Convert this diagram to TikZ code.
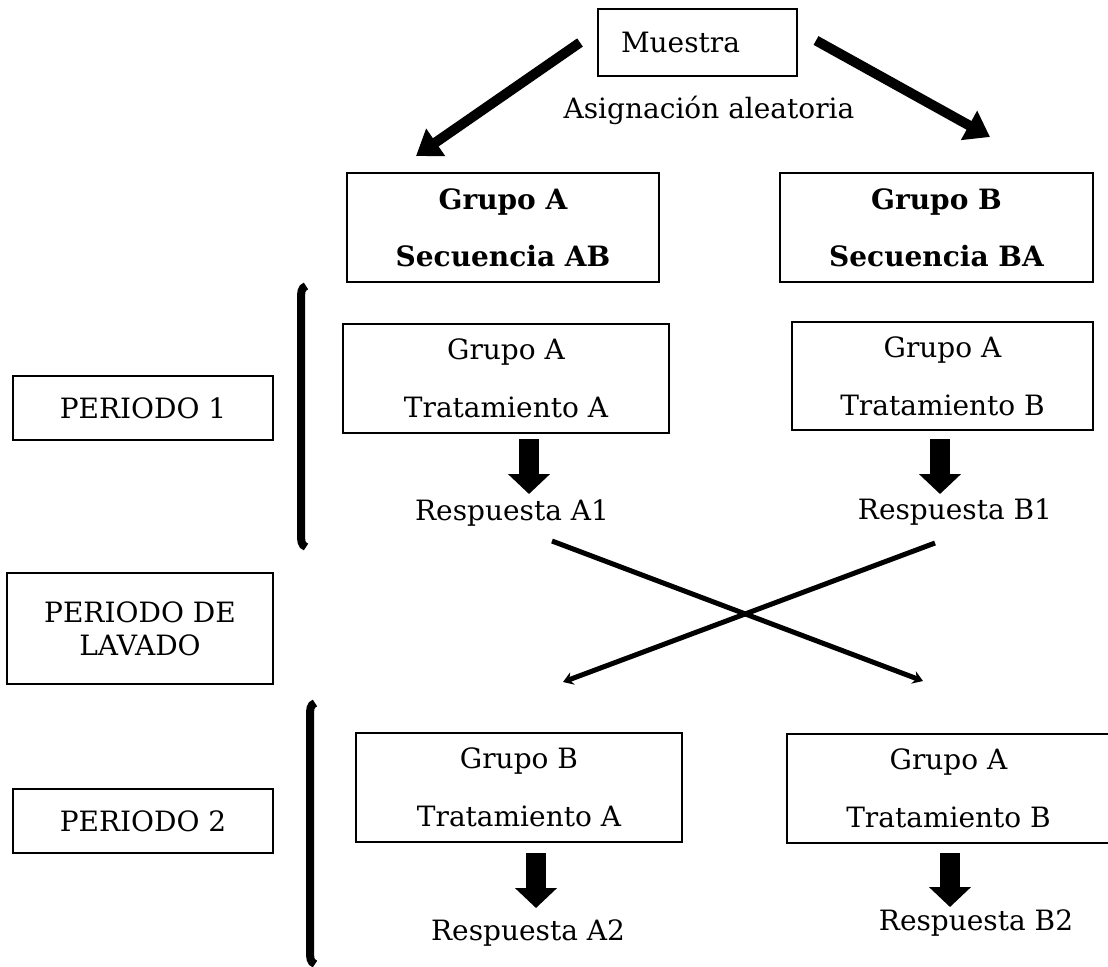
\documentclass[tikz,border=0pt]{standalone}
\usepackage{fontspec}
\setmainfont{DejaVu Serif}
\usetikzlibrary{arrows.meta}
\begin{document}
\begin{tikzpicture}[x=0.5pt,y=-0.5pt,
  every node/.style={font=\fontsize{14}{17}\selectfont},
  cellbox/.style={draw, line width=1pt, inner sep=0pt, align=center},
  pairbox/.style={cellbox, font=\fontsize{14}{29}\selectfont},
  boldpair/.style={cellbox, font=\fontsize{14}{28.5}\selectfont\bfseries},
  textonly/.style={inner sep=0pt},
  thickarrow/.style={line width=5pt, -{Triangle[length=12pt,width=16pt]}},
  blockarrow/.style={line width=10pt, -{Triangle[length=10pt,width=20.5pt]}},
  crossarrow/.style={line width=2.5pt, -{Stealth[length=5pt,width=6.5pt]}},
  bracket/.style={line width=4pt}
]
\useasboundingbox (0,0) rectangle (1108,966);
\clip (0,0) rectangle (1108,966);

% top: sample and random allocation
\node[cellbox, minimum width=99.5pt, minimum height=33.5pt, text width=76.5pt,
      inner xsep=11.5pt, align=left] (muestra) at (697.5,42.5) {Muestra};
\node[textonly] (asig) at (709,110) {Asignación aleatoria};

\node[boldpair, minimum width=156pt, minimum height=54.5pt] (grpA) at (503,227.5)
  {Grupo A\\Secuencia AB};
\node[boldpair, minimum width=156.5pt, minimum height=54.5pt] (grpB) at (936.5,227.5)
  {Grupo B\\Secuencia BA};

\draw[thickarrow] ([xshift=-8.5pt]muestra.west) -- ([xshift=-43.5pt,yshift=8pt]grpA.north);
\draw[thickarrow] ([xshift=9pt,yshift=1pt]muestra.east) -- ([xshift=26.75pt,yshift=17.5pt]grpB.north);

% period labels
\node[cellbox, minimum width=130pt, minimum height=32pt] (per1) at (143,408) {PERIODO 1};
\node[cellbox, font=\fontsize{14}{16.5}\selectfont, minimum width=133pt, minimum height=55.5pt]
  (lav) at (140,628.5) {PERIODO DE\\LAVADO};
\node[cellbox, minimum width=130pt, minimum height=32pt] (per2) at (143,821) {PERIODO 2};

% brackets grouping each period
\draw[bracket] (306,286) .. controls (301,288) and (301,292) .. (301,300) -- (301,533)
  .. controls (301,541) and (301,545) .. (306,547);
\draw[bracket] (315,703) .. controls (310,705) and (310,709) .. (310,717) -- (310,950)
  .. controls (310,958) and (310,962) .. (315,964);

% period 1
\node[pairbox, minimum width=163pt, minimum height=54.5pt] (t1a) at (506,378.5)
  {Grupo A\\Tratamiento A};
\node[pairbox, minimum width=150.5pt, minimum height=54pt] (t1b) at (942.5,376)
  {Grupo A\\Tratamiento B};
\node[textonly] (r1a) at (512,513) {Respuesta A1};
\node[textonly] (r1b) at (955,512) {Respuesta B1};
\draw[blockarrow] ([xshift=11.5pt,yshift=-2.5pt]t1a.south) -- ++(0,55);
\draw[blockarrow] ([xshift=-1.25pt,yshift=-4pt]t1b.south) -- ++(0,55);

% period 2
\node[pairbox, minimum width=163pt, minimum height=54.5pt] (t2a) at (519,787.5)
  {Grupo B\\Tratamiento A};
\node[pairbox, minimum width=161.5pt, minimum height=54.5pt] (t2b) at (948.5,788.5)
  {Grupo A\\Tratamiento B};
\node[textonly] (r2a) at (528,933) {Respuesta A2};
\node[textonly] (r2b) at (976,923) {Respuesta B2};
\draw[blockarrow] ([xshift=8.5pt,yshift=-5pt]t2a.south) -- ++(0,55);
\draw[blockarrow] ([xshift=0.75pt,yshift=-4.5pt]t2b.south) -- ++(0,54);

% crossover after washout
\draw[crossarrow] ([xshift=20pt,yshift=-14pt]r1a.center) -- ([xshift=-12.75pt,yshift=26pt]t2b.north);
\draw[crossarrow] ([xshift=-10pt,yshift=-15.5pt]r1b.center) -- ([xshift=22pt,yshift=25pt]t2a.north);
\end{tikzpicture}
\end{document}
